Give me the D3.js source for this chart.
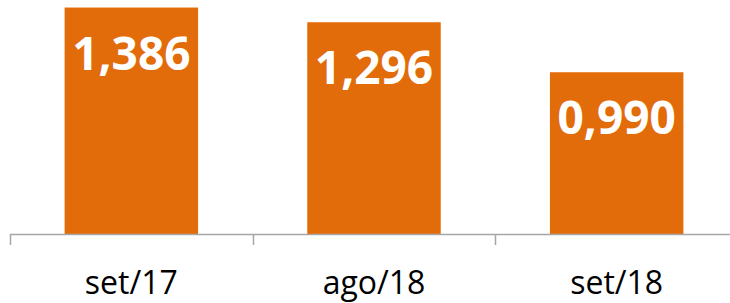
<!DOCTYPE html>
<html>
<head>
<meta charset="utf-8">
<script src="https://cdn.jsdelivr.net/npm/d3@7"></script>
<style>
  body { margin: 0; background: #fff; }
  svg { display: block; }
</style>
</head>
<body>
<div class="chart"></div>
<script>
var categories = ['set/17', 'ago/18', 'set/18']
var values = [1.386, 1.296, 0.990]
var valueLabels = ['1,386', '1,296', '0,990']

var width = 730
var height = 303
var baseline = 234

var svg = d3.select('.chart')
  .append('svg')
  .attr('width', width)
  .attr('height', height)

var x = d3.scaleBand()
  .domain(categories)
  .range([10, 738])
  .paddingInner(0.45)
  .paddingOuter(0.225)

var y = d3.scaleLinear()
  .domain([0, 1.4])
  .range([baseline, baseline - 1.4 * 163.4])

var bars = svg.append('g')

bars.selectAll('rect')
  .data(values)
  .enter().append('rect')
  .attr('x', (d, i) => x(categories[i]))
  .attr('width', x.bandwidth())
  .attr('y', d => y(d))
  .attr('height', d => y(0) - y(d))
  .attr('fill', '#e36c0a')

bars.selectAll('text')
  .data(values)
  .enter().append('text')
  .attr('x', (d, i) => x(categories[i]) + x.bandwidth() / 2)
  .attr('y', d => y(d) + 62)
  .attr('text-anchor', 'middle')
  .attr('fill', '#fff')
  .style('font-family', '"Open Sans", sans-serif')
  .style('font-weight', 'bold')
  .style('font-size', '46px')
  .text((d, i) => valueLabels[i])

// axis: baseline + tick marks between categories
var axis = svg.append('g')
axis.append('line')
  .attr('x1', 10).attr('x2', width)
  .attr('y1', baseline + 0.5).attr('y2', baseline + 0.5)
  .attr('stroke', '#a6a6a6')
  .attr('stroke-width', 1.5)

var tickPos = [0, 1, 2].map(i => x(categories[i]) - x.step() * x.paddingInner() / 2)
tickPos.push(x(categories[2]) + x.bandwidth() + x.step() * x.paddingInner() / 2)

axis.selectAll('.tick')
  .data(tickPos)
  .enter().append('line')
  .attr('class', 'tick')
  .attr('x1', d => Math.round(d) + 0.5).attr('x2', d => Math.round(d) + 0.5)
  .attr('y1', baseline).attr('y2', baseline + 11)
  .attr('stroke', '#a6a6a6')
  .attr('stroke-width', 1.5)

svg.append('g').selectAll('text')
  .data(categories)
  .enter().append('text')
  .attr('x', d => x(d) + x.bandwidth() / 2)
  .attr('y', 294)
  .attr('text-anchor', 'middle')
  .attr('fill', '#000')
  .style('font-family', '"Open Sans", sans-serif')
  .style('font-size', '32px')
  .text(d => d)
</script>
</body>
</html>
